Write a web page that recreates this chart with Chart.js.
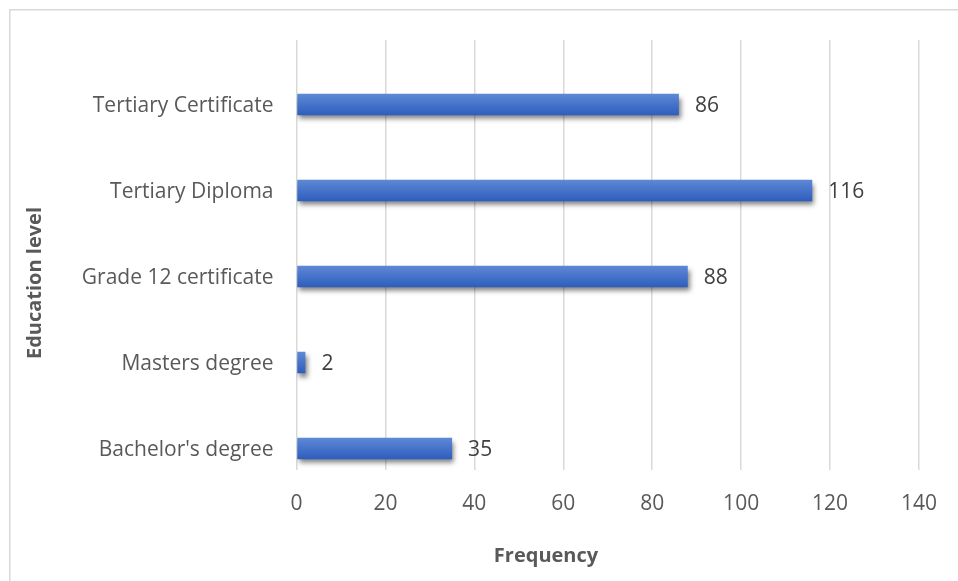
<!DOCTYPE html>
<html>
<head>
<meta charset="utf-8">
<style>
  html, body { margin: 0; padding: 0; background: #ffffff; }
  #wrap { position: relative; width: 958px; height: 581px; }
  canvas { display: block; }
</style>
<script src="https://cdn.jsdelivr.net/npm/chart.js@4/dist/chart.umd.min.js"></script>
</head>
<body>
<div id="wrap"><canvas id="c" width="958" height="581"></canvas></div>
<script>
const categories = ["Tertiary Certificate", "Tertiary Diploma", "Grade 12 certificate", "Masters degree", "Bachelor's degree"];
const frequency = [86, 116, 88, 2, 35];
const xTicks = [0, 20, 40, 60, 80, 100, 120, 140];
const xTitle = "Frequency";
const yTitle = "Education level";

const FONT = "'Open Sans', 'DejaVu Sans', sans-serif";

const decor = {
  id: 'decor',
  beforeDraw(chart) {
    const c = chart.ctx;
    c.save();
    c.fillStyle = '#ffffff';
    c.fillRect(0, 0, chart.width, chart.height);
    c.strokeStyle = '#d9d9d9';
    c.lineWidth = 1.5;
    c.strokeRect(9.75, 9.75, 1200, 1200);
    c.restore();
  },
  beforeDatasetDraw(chart, args) {
    const c = chart.ctx;
    const meta = args.meta;
    meta.data.forEach(bar => {
      const h = bar.height || 21;
      const g = c.createLinearGradient(0, bar.y - h / 2, 0, bar.y + h / 2);
      g.addColorStop(0, '#5f89d6');
      g.addColorStop(1, '#2d5dbd');
      bar.options = Object.assign({}, bar.options, { backgroundColor: g });
    });
    c.save();
    c.shadowColor = 'rgba(0,0,0,0.5)';
    c.shadowOffsetX = 2;
    c.shadowOffsetY = 4;
    c.shadowBlur = 5;
  },
  afterDatasetDraw(chart) {
    chart.ctx.restore();
  },
  afterDraw(chart) {
    const c = chart.ctx;
    c.save();
    // data labels
    const meta = chart.getDatasetMeta(2);
    c.font = "21px " + FONT;
    c.fillStyle = '#404040';
    c.textAlign = 'left';
    c.textBaseline = 'middle';
    meta.data.forEach((bar, i) => {
      const v = chart.data.datasets[2].data[i];
      if (v === null || v === undefined) return;
      c.fillText(String(v), bar.x + 16, bar.y + 2);
    });
    // axis titles
    c.fillStyle = '#595959';
    c.font = "bold 20px " + FONT;
    c.textAlign = 'center';
    c.textBaseline = 'middle';
    c.fillText(xTitle, 546, 556);
    c.translate(35, 283);
    c.rotate(-Math.PI / 2);
    c.fillText(yTitle, 0, 0);
    c.restore();
  }
};

new Chart(document.getElementById('c'), {
  type: 'bar',
  data: {
    labels: categories,
    datasets: [
      { label: 'empty1', data: categories.map(() => null) },
      { label: 'empty2', data: categories.map(() => null) },
      { label: xTitle, data: frequency, backgroundColor: '#4472C4', borderWidth: 0 }
    ]
  },
  options: {
    indexAxis: 'y',
    responsive: false,
    animation: false,
    devicePixelRatio: 1,
    categoryPercentage: 0.75,
    barPercentage: 1,
    layout: { padding: { left: 0, top: 40, right: 35, bottom: 0 } },
    plugins: { legend: { display: false }, tooltip: { enabled: false }, title: { display: false } },
    scales: {
      x: {
        min: 0, max: 140,
        afterBuildTicks(scale) { scale.ticks = xTicks.map(v => ({ value: v })); },
        afterFit(scale) { scale.height = 111; },
        grid: { color: '#d9d9d9', lineWidth: 1.5, drawTicks: false },
        border: { display: false },
        ticks: { color: '#595959', font: { family: FONT, size: 21 }, padding: 21, maxRotation: 0 }
      },
      y: {
        afterFit(scale) { scale.width = 296.5; },
        grid: { display: false },
        border: { display: false },
        ticks: { color: '#595959', font: { family: FONT, size: 21 }, padding: 15, labelOffset: 23 }
      }
    }
  },
  plugins: [decor]
});
</script>
</body>
</html>
